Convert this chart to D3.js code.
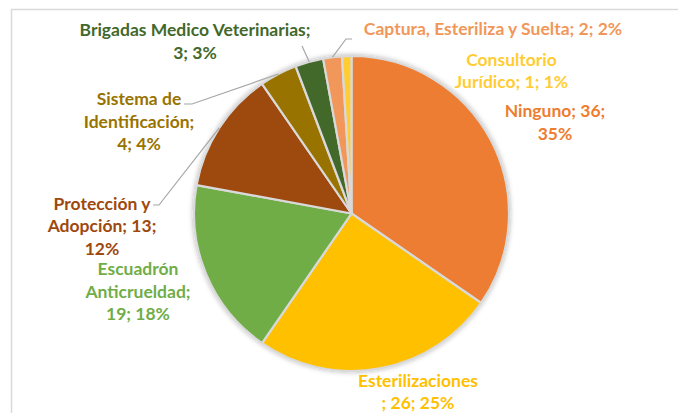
<!DOCTYPE html>
<html>
<head>
<meta charset="utf-8">
<script src="https://cdn.jsdelivr.net/npm/d3@7"></script>
<style>
  html, body { margin: 0; padding: 0; background: #fff; }
  svg { display: block; }
  text { font-family: Lato, "Open Sans", sans-serif; font-weight: bold; }
</style>
</head>
<body>
<div id="chart"></div>
<script>
// --- datos ---
const categories = ['Ninguno', 'Esterilizaciones', 'Escuadrón Anticrueldad', 'Protección y Adopción',
  'Sistema de Identificación', 'Brigadas Medico Veterinarias', 'Captura, Esteriliza y Suelta', 'Consultorio Jurídico'];
const values   = [36, 26, 19, 13, 4, 3, 2, 1];
const percents = ['35%', '25%', '18%', '12%', '4%', '3%', '2%', '1%'];
const colors   = ['#ED7D31', '#FFC000', '#70AD47', '#9E480E', '#997300', '#43682B', '#F1975A', '#FFCD33'];

// texto de etiquetas, partido en líneas como en Excel
const labelLines = [
  ['Ninguno; 36;', '35%'],
  ['Esterilizaciones', '; 26; 25%'],
  ['Escuadrón', 'Anticrueldad;', '19; 18%'],
  ['Protección y', 'Adopción; 13;', '12%'],
  ['Sistema de', 'Identificación;', '4; 4%'],
  ['Brigadas Medico Veterinarias;', '3; 3%'],
  ['Captura, Esteriliza y Suelta; 2; 2%'],
  ['Consultorio', 'Jurídico; 1; 1%']
];

// --- layout ---
const W = 678, H = 413;
const cx = 351.5, cy = 213.5, R = 157.5;
const lineH = 22.5;
// centro x y línea base de la primera línea de cada etiqueta
const labelPos = [
  [555, 117], [418, 386.5], [138, 275], [102, 209.5],
  [139, 105], [195, 36], [493, 35], [511.5, 65.5]
];
// punto de inicio de la línea guía (null = sin línea)
const leaderStart = [
  null, null, null, [[153, 205], [159, 205]],
  [[184, 104], [192, 104]], [[302, 46]], [[352, 39], [346, 39]], null
];

const svg = d3.select('#chart').append('svg')
  .attr('width', W).attr('height', H);

const defs = svg.append('defs');
const f = defs.append('filter').attr('id', 'shadow')
  .attr('x', '-20%').attr('y', '-20%').attr('width', '140%').attr('height', '140%');
f.append('feDropShadow')
  .attr('dx', 0).attr('dy', 0).attr('stdDeviation', 2.5)
  .attr('flood-color', '#000').attr('flood-opacity', 0.3);

// borde del área del gráfico
svg.append('rect')
  .attr('x', 11.5).attr('y', 9.5)
  .attr('width', 800).attr('height', 600)
  .attr('fill', '#fff')
  .attr('stroke', '#D9D9D9')
  .attr('stroke-width', 1.5);

const pie = d3.pie().sort(null).value(d => d);
const arcs = pie(values);
const arc = d3.arc().innerRadius(0).outerRadius(R);
const edge = d3.arc().innerRadius(R).outerRadius(R);

const g = svg.append('g').attr('transform', `translate(${cx},${cy})`);

g.append('g').attr('filter', 'url(#shadow)')
  .selectAll('path')
  .data(arcs)
  .join('path')
  .attr('d', arc)
  .attr('fill', (d, i) => colors[i])
  .attr('stroke', '#D9D9D9')
  .attr('stroke-width', 2.2)
  .attr('stroke-linejoin', 'round');

// líneas guía
const line = d3.line();
arcs.forEach((d, i) => {
  if (!leaderStart[i]) return;
  const c = edge.centroid(d);
  const pts = leaderStart[i].concat([[c[0] + cx, c[1] + cy]]);
  svg.append('path')
    .attr('d', line(pts))
    .attr('fill', 'none')
    .attr('stroke', '#A6A6A6')
    .attr('stroke-width', 1.2);
});

// etiquetas
const labels = svg.append('g');
categories.forEach((name, i) => {
  const t = labels.append('text')
    .attr('text-anchor', 'middle')
    .attr('fill', colors[i])
    .style('font-size', '17.5px');
  labelLines[i].forEach((s, j) => {
    t.append('tspan')
      .attr('x', labelPos[i][0])
      .attr('y', labelPos[i][1] + j * lineH)
      .text(s);
  });
});
</script>
</body>
</html>
